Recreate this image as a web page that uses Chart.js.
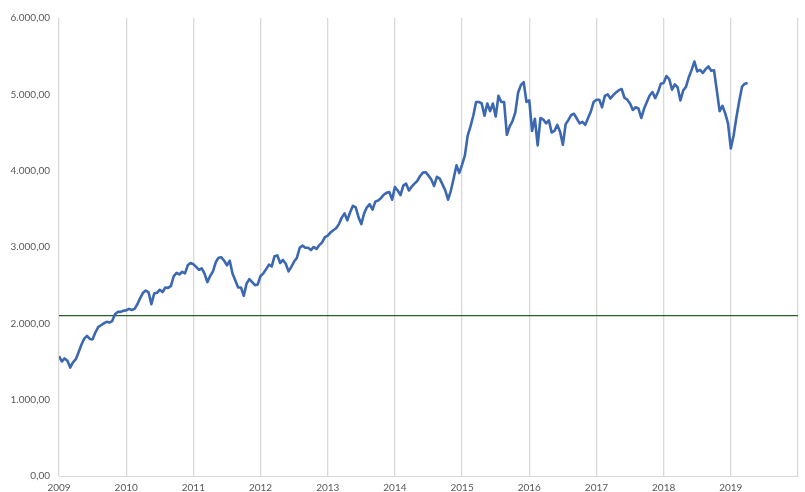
<!DOCTYPE html>
<html>
<head>
<meta charset="utf-8">
<script src="https://cdn.jsdelivr.net/npm/chart.js@4/dist/chart.umd.min.js"></script>
<style>
body{margin:0;background:#fff}
#wrap{width:805px;height:492px}
</style>
</head>
<body>
<div id="wrap"><canvas id="indexChart"></canvas></div>
<script>

// twice a month closing values, one list per year
let y2009=[1570,1500,1540,1510,1420,1490,1530,1620,1720,1800,1835,1795,1790,1880,1950,1975,2000,2020,2010,2030,2120,2150,2150,2165]
let y2010=[2170,2190,2175,2190,2250,2330,2400,2430,2405,2250,2390,2400,2440,2410,2470,2465,2490,2620,2660,2640,2675,2655,2760,2790]
let y2011=[2775,2740,2700,2720,2650,2540,2620,2680,2800,2860,2865,2820,2760,2820,2650,2560,2470,2470,2360,2520,2580,2540,2500,2510]
let y2012=[2620,2655,2710,2770,2745,2880,2890,2790,2830,2780,2680,2740,2810,2860,2990,3020,2990,2990,2960,3000,2975,3025,3060,3130]
let y2013=[3150,3190,3220,3245,3300,3385,3440,3350,3455,3540,3520,3390,3300,3440,3520,3560,3490,3595,3610,3640,3685,3710,3720,3620]
let y2014=[3785,3740,3680,3805,3830,3740,3790,3830,3865,3930,3975,3980,3935,3885,3800,3920,3895,3820,3740,3620,3740,3900,4070,3970]
let y2015=[4080,4200,4460,4580,4720,4900,4900,4880,4720,4880,4780,4880,4710,4980,4900,4900,4470,4580,4650,4760,5020,5120,5160,4900]
let y2016=[4920,4520,4680,4330,4690,4670,4620,4660,4500,4520,4600,4510,4340,4610,4665,4730,4745,4680,4620,4640,4600,4690,4775,4900]
let y2017=[4930,4930,4830,4980,5000,4945,4990,5025,5055,5070,4955,4930,4880,4795,4830,4815,4690,4810,4900,4985,5030,4950,5030,5140]
let y2018=[5150,5240,5200,5060,5130,5090,4920,5050,5100,5225,5320,5430,5300,5320,5280,5330,5365,5310,5315,5050,4780,4850,4750,4620]
let y2019=[4290,4460,4700,4910,5100,5140,5150]

let years=[2009,2010,2011,2012,2013,2014,2015,2016,2017,2018,2019]
let series=[y2009,y2010,y2011,y2012,y2013,y2014,y2015,y2016,y2017,y2018,y2019]

let refLevel=2100
let yTicks=[0,1000,2000,3000,4000,5000,6000]

// x as fractional year, 24 steps per year
let points=[]
series.forEach((vals,k)=>{
vals.forEach((v,i)=>{
points.push({x:years[k]+i/24,y:v})
})
})

function fmt(v){
let s=Math.round(v).toString().replace(/\B(?=(\d{3})+(?!\d))/g,".")
return s+",00"
}

let font={family:"Lato, 'Open Sans', sans-serif",size:10}

new Chart(document.getElementById("indexChart"),{

type:"line",

data:{
datasets:[
{
data:points,
borderColor:"#3b68b0",
borderWidth:2.6,
pointRadius:0,
tension:0,
borderJoinStyle:"round",
order:1
},
{
data:[{x:2009,y:refLevel},{x:2020,y:refLevel}],
borderColor:"#2a5e2a",
borderWidth:1.2,
pointRadius:0,
order:2
}
]
},

options:{
responsive:true,
maintainAspectRatio:false,
animation:false,
layout:{padding:{left:0,right:7,top:18,bottom:0}},
plugins:{legend:{display:false},tooltip:{enabled:false}},
scales:{
x:{
type:"linear",
min:2009,
max:2020,
afterFit:s=>{s.height=16},
ticks:{
stepSize:1,
padding:6,
color:"#595959",
font:font,
maxRotation:0,
callback:v=>v<2020?String(v):""
},
grid:{color:"#d9d9d9",lineWidth:1.3,drawTicks:false},
border:{color:"#d9d9d9"}
},
y:{
min:0,
max:6000,
afterFit:s=>{s.width=59},
afterBuildTicks:s=>{s.ticks=yTicks.map(v=>({value:v}))},
ticks:{
padding:9,
color:"#595959",
font:font,
callback:v=>fmt(v)
},
grid:{display:false,drawTicks:false},
border:{display:false}
}
}
}

})

</script>
</body>
</html>
